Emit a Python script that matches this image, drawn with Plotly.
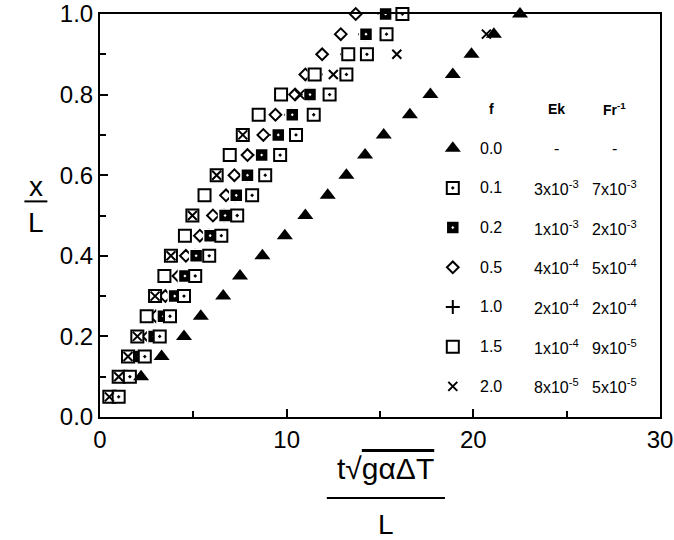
import plotly.graph_objects as go

# ---------------- data ----------------
levels = [0.05, 0.10, 0.15, 0.20, 0.25, 0.30, 0.35, 0.40, 0.45, 0.50,
          0.55, 0.60, 0.65, 0.70, 0.75, 0.80, 0.85, 0.90, 0.95, 1.00]

# f = 0.0 (filled triangles)
tri_y = [0.10, 0.15, 0.20, 0.25, 0.30, 0.35, 0.40, 0.45, 0.50, 0.55,
         0.60, 0.65, 0.70, 0.75, 0.80, 0.85, 0.90, 0.95, 1.00]
tri_x = [2.2, 3.3, 4.5, 5.4, 6.6, 7.5, 8.7, 9.9, 11.0, 12.2,
         13.2, 14.2, 15.2, 16.6, 17.7, 18.9, 19.9, 21.1, 22.5]

# f = 0.1 (square with dot)
f01_x = [1.0, 1.6, 2.4, 3.2, 3.75, 4.5, 5.1, 5.85, 6.5, 7.35,
         8.15, 8.85, 9.65, 10.5, 11.45, 12.3, 13.2, 14.3, 15.35, 16.2]

# f = 0.2 (filled square with white dot)
f02_x = [0.9, 1.5, 2.1, 2.9, 3.4, 4.0, 4.55, 5.15, 5.9, 6.7,
         7.3, 7.9, 8.66, 9.55, 10.3, 11.25, 11.5, 13.3, 14.25, 15.3]

# f = 0.5 (open diamond)
f05_x = [0.8, 1.3, 1.9, 2.6, 3.0, 3.5, 4.2, 4.6, 5.35, 6.05,
         6.75, 7.2, 7.9, 8.75, 9.4, 10.45, 11.0, 11.9, 12.9, 13.7]

# f = 1.0 (plus) - mostly hidden beneath other symbols
f10_x = [0.85, 1.45, 2.05, 2.85, 3.35, 3.95, 4.5, 5.1, 5.85, 6.65,
         7.25, 7.85, 8.6, 9.5, 10.25, 11.2, 11.55, 13.25, 14.2, 15.25]

# f = 1.5 (open square)
f15_y = [0.05, 0.10, 0.15, 0.20, 0.25, 0.30, 0.35, 0.40, 0.45, 0.50,
         0.55, 0.60, 0.65, 0.70, 0.75, 0.80, 0.85, 0.90]
f15_x = [0.5, 1.0, 1.5, 2.0, 2.5, 2.95, 3.45, 3.8, 4.55, 4.95,
         5.6, 6.25, 6.95, 7.65, 8.5, 9.7, 11.5, 13.3]

# f = 2.0 (cross x)
f20_y = [0.05, 0.10, 0.15, 0.20, 0.30, 0.40, 0.50, 0.60, 0.70, 0.80,
         0.85, 0.90, 0.95]
f20_x = [0.5, 1.0, 1.5, 2.0, 2.95, 3.8, 4.95, 6.25, 7.65, 10.7,
         12.5, 15.9, 20.7]

# legend table
leg_f = ["0.0", "0.1", "0.2", "0.5", "1.0", "1.5", "2.0"]
leg_ek = ["-", "3x10<sup>-3</sup>", "1x10<sup>-3</sup>", "4x10<sup>-4</sup>",
          "2x10<sup>-4</sup>", "1x10<sup>-4</sup>", "8x10<sup>-5</sup>"]
leg_fr = ["-", "7x10<sup>-3</sup>", "2x10<sup>-3</sup>", "5x10<sup>-4</sup>",
          "2x10<sup>-4</sup>", "9x10<sup>-5</sup>", "5x10<sup>-5</sup>"]

x_ticks = [0, 10, 20, 30]
y_ticks = [0.0, 0.2, 0.4, 0.6, 0.8, 1.0]

# ---------------- styles ----------------
FONT = "Liberation Sans, Arial, sans-serif"
styles = {
    "0.0": dict(symbol="triangle-up", size=14, color="black", line=dict(width=0)),
    "0.1": dict(symbol="square-dot", size=12, color="white", line=dict(color="black", width=2)),
    "0.2": dict(symbol="square-dot", size=13, color="black", line=dict(color="white", width=1.5)),
    "0.5": dict(symbol="diamond", size=9, color="white", line=dict(color="black", width=2)),
    "1.0": dict(symbol="cross-thin", size=10, color="black", line=dict(color="black", width=2)),
    "1.5": dict(symbol="square", size=12, color="white", line=dict(color="black", width=2)),
    "2.0": dict(symbol="x-thin", size=9, color="black", line=dict(color="black", width=2)),
}

fig = go.Figure()

def add(xs, ys, key):
    fig.add_trace(go.Scatter(x=xs, y=ys, mode="markers", marker=styles[key],
                             showlegend=False, cliponaxis=False, hoverinfo="skip"))

# draw order (bottom -> top)
add(f10_x, levels, "1.0")
add(f05_x, levels, "0.5")
add(f02_x, levels, "0.2")
add(f15_x, f15_y, "1.5")
add(f01_x, levels, "0.1")
add(f20_x, f20_y, "2.0")
add(tri_x, tri_y, "0.0")

# ---------------- legend table ----------------
row_top = 0.667
row_step = 0.0985
sym_x = 18.9
col_f, col_ek, col_fr = 20.95, 24.45, 27.55
header_y = 0.765
annotations = []
for txt, cx in (("f", col_f), ("Ek", col_ek), ("Fr<sup>-1</sup>", col_fr)):
    annotations.append(dict(x=cx, y=header_y, xref="x", yref="y", text="<b>" + txt + "</b>",
                            xanchor="center", yanchor="middle", showarrow=False,
                            font=dict(family=FONT, size=14, color="black")))
for i, key in enumerate(leg_f):
    yy = row_top - i * row_step
    fig.add_trace(go.Scatter(x=[sym_x], y=[yy], mode="markers", marker=styles[key],
                             showlegend=False, cliponaxis=False, hoverinfo="skip"))
    for txt, cx in ((leg_f[i], col_f), (leg_ek[i], col_ek), (leg_fr[i], col_fr)):
        annotations.append(dict(x=cx, y=yy, xref="x", yref="y", text=txt, showarrow=False,
                                xanchor="center", yanchor="middle",
                                font=dict(family=FONT, size=16, color="black")))

# ---------------- axis titles (fractions) ----------------
big = dict(family=FONT, size=28, color="black")
num = dict(family=FONT, size=30, color="black")
# y title  x / L
annotations.append(dict(x=-0.115, y=0.572, xref="paper", yref="paper", text="x",
                        xanchor="center", yanchor="middle", showarrow=False, font=big))
annotations.append(dict(x=-0.115, y=0.482, xref="paper", yref="paper", text="L",
                        xanchor="center", yanchor="middle", showarrow=False, font=big))
# x title  t sqrt(g alpha dT) / L
annotations.append(dict(x=0.510, y=-0.128, xref="paper", yref="paper",
                        text="t\u221a<span style='text-decoration:overline'>g\u03b1\u0394T</span>",
                        xanchor="center", yanchor="middle", showarrow=False, font=num))
annotations.append(dict(x=0.510, y=-0.266, xref="paper", yref="paper", text="L",
                        xanchor="center", yanchor="middle", showarrow=False, font=big))

shapes = [
    dict(type="line", xref="paper", yref="paper", x0=-0.135, x1=-0.094, y0=0.535, y1=0.535,
         line=dict(color="black", width=2)),
    dict(type="line", xref="paper", yref="paper", x0=0.405, x1=0.616, y0=-0.201, y1=-0.201,
         line=dict(color="black", width=2)),
]

fig.update_layout(
    width=674, height=540,
    margin=dict(l=100, r=14, t=14, b=123),
    paper_bgcolor="white", plot_bgcolor="white",
    annotations=annotations, shapes=shapes,
    font=dict(family=FONT, color="black"),
    xaxis=dict(range=[0, 30], tickvals=x_ticks, ticks="inside", ticklen=8, tickwidth=2,
               tickcolor="black", showline=True, linecolor="black", linewidth=2, mirror=True,
               showgrid=False, zeroline=False, tickfont=dict(family=FONT, size=24),
               ticklabeloverflow="allow", automargin=False,
               minor=dict(dtick=5, ticks="inside", ticklen=6, tickwidth=2, tickcolor="black")),
    yaxis=dict(range=[0, 1], tickvals=y_ticks, tickformat=".1f", ticks="inside", ticklen=8,
               tickwidth=2, tickcolor="black", showline=True, linecolor="black", linewidth=2,
               mirror=True, showgrid=False, zeroline=False, tickfont=dict(family=FONT, size=24),
               ticklabeloverflow="allow", automargin=False,
               minor=dict(dtick=0.1, ticks="inside", ticklen=6, tickwidth=2, tickcolor="black")),
)

# remove the browser's default 8px body margin so the figure fills the window exactly
fig.write_html("out.html", config={"displayModeBar": False, "staticPlot": True},
               post_script="document.body.style.margin='0px';")
